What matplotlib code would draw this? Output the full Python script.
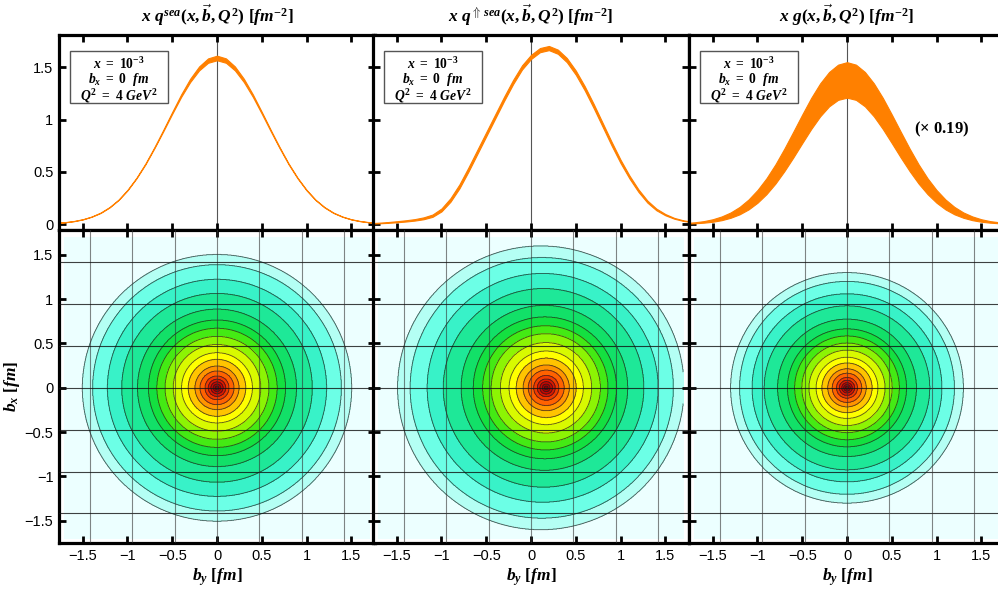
import numpy as np
import matplotlib
matplotlib.use("Agg")
import matplotlib.pyplot as plt
from matplotlib.patches import Rectangle

plt.rcParams["mathtext.fontset"] = "custom"
plt.rcParams["mathtext.rm"] = "Liberation Serif:bold"
plt.rcParams["mathtext.it"] = "Liberation Serif:bold:italic"
plt.rcParams["mathtext.bf"] = "Liberation Serif:bold"
plt.rcParams["font.family"] = ["Liberation Sans", "DejaVu Sans"]

# ---------------- data ----------------
titles = [r"$x\ q^{sea}(x,\vec{b},Q^2)\ [fm^{-2}]$",
          r"$x\ q^{\Uparrow\,sea}(x,\vec{b},Q^2)\ [fm^{-2}]$",
          r"$x\ g(x,\vec{b},Q^2)\ [fm^{-2}]$"]
info_lines = [r"$x\ =\ 10^{-3}$", r"$b_x\ =\ 0\ \ fm$", r"$Q^2\ =\ 4\ GeV^2$"]
scale_note = r"$(\times\ 0.19)$"

# radial samples (fm) for the symmetric profiles
r_prof = [0.0, 0.1, 0.2, 0.3, 0.4, 0.5, 0.6, 0.7, 0.8, 0.9, 1.0,
          1.1, 1.2, 1.3, 1.4, 1.5, 1.6, 1.7, 1.8]
sea_mid = [1.59, 1.565, 1.49, 1.375, 1.23, 1.065, 0.895, 0.73, 0.575, 0.44, 0.325,
           0.232, 0.161, 0.108, 0.071, 0.045, 0.028, 0.017, 0.010]
sea_half = [0.022, 0.021, 0.019, 0.016, 0.012, 0.009, 0.007, 0.005, 0.004, 0.003, 0.003,
            0.002, 0.002, 0.002, 0.001, 0.001, 0.001, 0.001, 0.001]

glu_up = [1.55, 1.526, 1.456, 1.347, 1.208, 1.049, 0.884, 0.722, 0.571, 0.438, 0.326,
          0.235, 0.164, 0.111, 0.073, 0.046, 0.028, 0.017, 0.010]
glu_lo = [1.21, 1.189, 1.127, 1.031, 0.910, 0.775, 0.637, 0.506, 0.387, 0.286, 0.204,
          0.140, 0.093, 0.060, 0.037, 0.022, 0.013, 0.007, 0.004]

# polarized sea: full b_y samples
b_pol = [-1.8, -1.7, -1.6, -1.5, -1.4, -1.3, -1.2, -1.1, -1.0, -0.9, -0.8, -0.7, -0.6,
         -0.5, -0.4, -0.3, -0.2, -0.1, 0.0, 0.1, 0.2, 0.3, 0.4, 0.5, 0.6, 0.7, 0.8,
         0.9, 1.0, 1.1, 1.2, 1.3, 1.4, 1.5, 1.6, 1.7, 1.8]
pol_mid = [0.006, 0.010, 0.015, 0.022, 0.030, 0.040, 0.055, 0.080, 0.135, 0.23, 0.36,
           0.52, 0.69, 0.86, 1.03, 1.20, 1.36, 1.50, 1.60, 1.665, 1.685, 1.65,
           1.57, 1.45, 1.30, 1.13, 0.95, 0.77, 0.60, 0.45, 0.32, 0.215, 0.14,
           0.09, 0.055, 0.033, 0.020]
pol_half = [0.002, 0.003, 0.004, 0.005, 0.006, 0.007, 0.009, 0.011, 0.014, 0.017, 0.019,
            0.020, 0.020, 0.020, 0.020, 0.020, 0.020, 0.020, 0.020, 0.020, 0.020, 0.020,
            0.020, 0.020, 0.020, 0.020, 0.019, 0.018, 0.016, 0.014, 0.012, 0.010, 0.008,
            0.006, 0.004, 0.003, 0.002]

# contour circles (outermost first): radius, centre b_y
sea_radii = [1.504, 1.389, 1.224, 1.064, 0.888, 0.765, 0.672, 0.58, 0.489, 0.396,
             0.321, 0.246, 0.19, 0.134, 0.097, 0.067, 0.041, 0.019]
sea_cent = [0.0] * 18
pol_radii = [1.60, 1.47, 1.29, 1.12, 0.93, 0.80, 0.70, 0.61, 0.51, 0.415,
             0.335, 0.258, 0.20, 0.14, 0.10, 0.07, 0.043, 0.02]
pol_cent = [0.11, 0.12, 0.13, 0.14, 0.15, 0.155, 0.16, 0.165, 0.168, 0.17,
            0.17, 0.17, 0.17, 0.17, 0.17, 0.17, 0.17, 0.17]
glu_radii = [1.30, 1.20, 1.06, 0.925, 0.775, 0.665, 0.585, 0.505, 0.425, 0.345,
             0.28, 0.215, 0.165, 0.117, 0.085, 0.058, 0.036, 0.017]
glu_cent = [0.0] * 18

band_colors = ["#ecffff", "#b4fff4", "#6cffe6", "#38f2c8", "#1ee898", "#12e068",
               "#14e040", "#44ea14", "#8cf404", "#d8fa00", "#ffff00", "#ffc400",
               "#ff9400", "#ff6200", "#f03a00", "#dc1800", "#c80600", "#b00000", "#900000"]

grid_pos = [-1.417, -0.945, -0.472, 0.0, 0.472, 0.945, 1.417]
ticks = [-1.5, -1.0, -0.5, 0.0, 0.5, 1.0, 1.5]
tick_labels = ["\u22121.5", "\u22121", "\u22120.5", "0", "0.5", "1", "1.5"]
yticks_top = [0.0, 0.5, 1.0, 1.5]
ytick_labels_top = ["0", "0.5", "1", "1.5"]

orange = "#ff8000"

# ---------------- figure ----------------
W, H = 998, 593
fig = plt.figure(figsize=(W / 100, H / 100), dpi=100)

lefts = [59, 373, 689]
width = 316
top_top, top_bot = 35, 230
bot_top, bot_bot = 230, 543


def ax_at(x0, y0, x1, y1):
    return fig.add_axes([x0 / W, 1 - y1 / H, (x1 - x0) / W, (y1 - y0) / H])


def style(ax, labels_x, labels_y):
    for s in ax.spines.values():
        s.set_linewidth(2.3)
        s.set_color("black")
    ax.tick_params(which="both", direction="in", length=5, width=2.0, top=True,
                   right=True, labelsize=10.5, pad=4, color="black")
    if not labels_x:
        ax.tick_params(labelbottom=False)
    if not labels_y:
        ax.tick_params(labelleft=False)


xl = (-1.765, 1.765)
for i in range(3):
    x0 = lefts[i]
    x1 = x0 + width
    # ---- top profile panel ----
    at = ax_at(x0, top_top, x1, top_bot)
    at.set_xlim(*xl)
    at.set_ylim(-0.057, 1.81)
    at.axvline(0, color="#555555", lw=0.8, zorder=1)
    if i == 0:
        rr = np.array(r_prof)
        bb = np.concatenate([-rr[::-1], rr[1:]])
        m = np.array(sea_mid)
        h = np.array(sea_half)
        mid = np.concatenate([m[::-1], m[1:]])
        hw = np.concatenate([h[::-1], h[1:]])
        lo, up = mid - hw, mid + hw
    elif i == 1:
        bb = np.array(b_pol)
        lo = np.array(pol_mid) - np.array(pol_half)
        up = np.array(pol_mid) + np.array(pol_half)
    else:
        rr = np.array(r_prof)
        bb = np.concatenate([-rr[::-1], rr[1:]])
        u = np.array(glu_up)
        l = np.array(glu_lo)
        up = np.concatenate([u[::-1], u[1:]])
        lo = np.concatenate([l[::-1], l[1:]])
    at.fill_between(bb, lo, up, color=orange, lw=0.8, edgecolor=orange, zorder=2)
    at.set_xticks(ticks)
    at.set_yticks(yticks_top)
    at.set_yticklabels(ytick_labels_top)
    style(at, False, i == 0)
    at.set_title(titles[i], fontsize=12.5, pad=9)
    # info box
    bx0, bx1 = 11 / width, 109 / width
    by0, by1 = (top_bot - 103) / 195, (top_bot - 51) / 195
    at.add_patch(Rectangle((bx0, by0), bx1 - bx0, by1 - by0, transform=at.transAxes,
                           fc="white", ec="#555555", lw=1.0, zorder=4))
    for k, line in enumerate(info_lines):
        yy = (top_bot - (64 + 16 * k)) / 195
        at.text((bx0 + bx1) / 2, yy, line, transform=at.transAxes, fontsize=9.8,
                ha="center", va="center", zorder=5)
    if i == 2:
        at.text(0.80, 0.515, scale_note, transform=at.transAxes, fontsize=12,
                ha="center", va="center")

    # ---- bottom density panel ----
    ab = ax_at(x0, bot_top, x1, bot_bot)
    ab.set_xlim(*xl)
    ab.set_ylim(-1.75, 1.78)
    radii = [sea_radii, pol_radii, glu_radii][i]
    cents = [sea_cent, pol_cent, glu_cent][i]
    g = np.linspace(-1.7, 1.7, 900)
    BY, BX = np.meshgrid(g, g)
    count = np.zeros_like(BY)
    for r, c in zip(radii, cents):
        count += ((BY - c) ** 2 + BX ** 2 <= r ** 2).astype(float)
    lv = np.arange(-0.5, len(radii) + 1.0, 1.0)
    ab.contourf(BY, BX, count, levels=lv, colors=band_colors, zorder=1)
    ab.contour(BY, BX, count, levels=lv[1:-1], colors="#202020", linewidths=0.6,
               alpha=0.75, zorder=2)
    for gp in grid_pos:
        ab.axvline(gp, color="#333333", lw=0.8, alpha=0.6, zorder=3)
        ab.axhline(gp, color="#111111", lw=0.8, alpha=0.8, zorder=3)
    ab.set_xticks(ticks)
    ab.set_xticklabels(tick_labels)
    ab.set_yticks(ticks)
    ab.set_yticklabels(tick_labels)
    style(ab, True, i == 0)
    ab.set_xlabel(r"$b_y\ [fm]$", fontsize=12.5, labelpad=3)
    if i == 0:
        ab.set_ylabel(r"$b_x\ [fm]$", fontsize=12.5, labelpad=2)

fig.savefig("out.png", dpi=100)
